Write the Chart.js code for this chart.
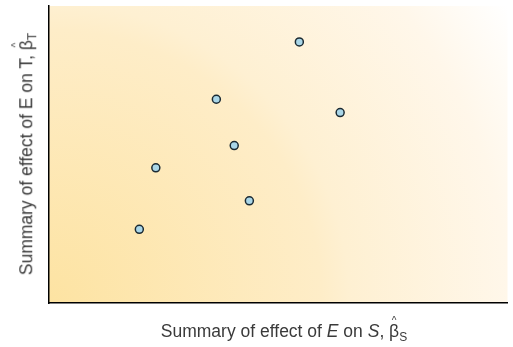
<!DOCTYPE html>
<html lang="en">
<head>
  <meta charset="UTF-8">
  <title>Effect summary</title>
  <script src="https://cdn.jsdelivr.net/npm/chart.js"></script>
  <style>
    html, body {
      margin: 0;
      padding: 0;
      background: #fff;
    }
    .wrap {
      position: relative;
      width: 513px;
      height: 347px;
      font-family: "Liberation Sans", Arial, sans-serif;
      color: #3a3a3a;
    }
    .xtitle, .ytitle {
      position: absolute;
      font-size: 17.5px;
      white-space: nowrap;
      line-height: 1;
    }
    .xtitle {
      left: 284px;
      top: 332px;
      transform: translate(-50%, -50%);
    }
    .ytitle {
      left: 27px;
      top: 154px;
      transform: translate(-50%, -50%) rotate(-90deg);
    }
    .hat {
      position: relative;
      display: inline-block;
    }
    .hat::before {
      content: "^";
      position: absolute;
      left: 50%;
      top: -7px;
      font-size: 10px;
      transform: translateX(-50%);
    }
    sub {
      font-size: 12px;
      vertical-align: -4px;
      line-height: 0;
    }
  </style>
</head>
<body>
  <div class="wrap">
    <canvas id="effectChart" width="513" height="347"></canvas>
    <div class="ytitle">Summary of effect of E on T, <span class="hat">β</span><sub>T</sub></div>
    <div class="xtitle">Summary of effect of <i>E</i> on <i>S</i>, <span class="hat">β</span><sub>S</sub></div>
  </div>

  <script>
    // values, axis range 0..100 on both sides
    const effectOnS = [54.6, 36.5, 63.5, 40.4, 23.3, 43.7, 19.7];
    const effectOnT = [87.9, 68.6, 64.1, 53.0, 45.5, 34.4, 24.8];

    const points = effectOnS.map((x, i) => ({ x: x, y: effectOnT[i] }));

    // yellow wash spreading out from the bottom-left corner
    const areaGradient = {
      id: 'areaGradient',
      beforeDraw(chart) {
        const { ctx, chartArea: a } = chart;
        const w = a.right - a.left;
        const h = a.bottom - a.top;
        const r = Math.sqrt(w * w + h * h);
        const g = ctx.createRadialGradient(a.left, a.bottom, 0, a.left, a.bottom, r);
        g.addColorStop(0, '#fde3a2');
        g.addColorStop(0.5, '#feedc8');
        g.addColorStop(0.55, '#fef0d2');
        g.addColorStop(0.84, '#fff7ea');
        g.addColorStop(1, '#ffffff');
        ctx.save();
        ctx.fillStyle = g;
        ctx.fillRect(a.left, a.top, w, h);
        ctx.restore();
      }
    };

    new Chart(document.getElementById('effectChart'), {
      type: 'scatter',
      data: {
        datasets: [{
          data: points,
          backgroundColor: '#a9d6e8',
          borderColor: '#1b2a33',
          borderWidth: 1.5,
          pointRadius: 4
        }]
      },
      options: {
        responsive: false,
        animation: false,
        layout: {
          padding: { left: 49, top: 6, right: 5, bottom: 44 }
        },
        plugins: {
          legend: { display: false },
          tooltip: { enabled: false }
        },
        scales: {
          x: {
            min: 0,
            max: 100,
            grid: { display: false, drawTicks: false },
            border: { color: '#000', width: 1.5 },
            ticks: { display: false }
          },
          y: {
            min: 0,
            max: 100,
            grid: { display: false, drawTicks: false },
            border: { color: '#000', width: 1.5 },
            ticks: { display: false }
          }
        }
      },
      plugins: [areaGradient]
    });
  </script>
</body>
</html>
